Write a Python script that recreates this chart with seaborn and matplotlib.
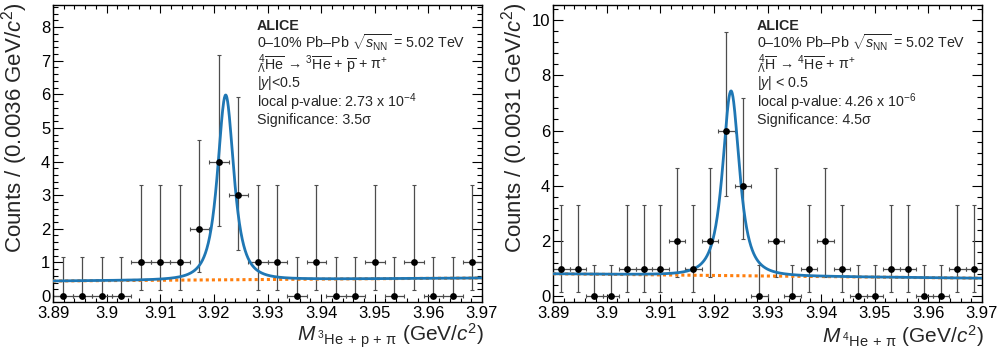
import numpy as np
import matplotlib
matplotlib.use("Agg")
import matplotlib.pyplot as plt
import matplotlib.ticker as mticker
import seaborn as sns

# ---- data ----
mass_lo, mass_hi = 3.89, 3.97

# left: anti-hyperhelium-4 -> 3He + p + pi  (22 bins, 0.0036 GeV/c2)
counts_he4l = [0, 0, 0, 0, 1, 1, 1, 2, 4, 3, 1, 1, 0, 1, 0, 0, 1, 0, 1, 0, 0, 1]
# right: anti-hypertriton-4 -> 4He + pi  (26 bins, 0.0031 GeV/c2)
counts_h4l = [1, 1, 0, 0, 1, 1, 1, 2, 1, 2, 6, 4, 0, 2, 0, 1, 2, 1, 0, 0,
              1, 1, 0, 0, 1, 1]

# Poisson error band ends per count
band_count = [0, 1, 2, 3, 4, 6]
band_low = [0.0, 0.17, 0.71, 1.37, 2.09, 3.62]
band_high = [1.15, 3.30, 4.64, 5.92, 7.16, 9.58]

# fit results (signal peak + linear background)
fit_he4l = dict(mu=3.9222, width=0.00165, amp=5.5, bg0=0.445, bg1=0.535)
fit_h4l = dict(mu=3.9232, width=0.0017, amp=6.68, bg0=0.82, bg1=0.66)

PI = r"\mathrm{\pi}"
panels = [
    dict(counts=counts_he4l, fit=fit_he4l, ymax=8.66, ymaj=1, ymin=-0.18,
         ylabel="Counts / (0.0036 GeV/$c^{2}$)",
         xlabel=r"$M_{\;^{3}\mathrm{He\,+\,p\,+\,}" + PI + r"}$ (GeV/$c^{2}$)",
         lines=["ALICE",
                r"0–10% Pb–Pb $\sqrt{s_{\mathrm{NN}}}$ = 5.02 TeV",
                r"${}^{\,4}_{\bar{\Lambda}}\overline{\mathrm{He}}\,\rightarrow\,{}^{3}\overline{\mathrm{He}}$ + $\overline{\mathrm{p}}$ + $" + PI + r"^{+}$",
                r"|$y$|<0.5",
                r"local p-value: 2.73 x 10$^{-4}$",
                "Significance: 3.5σ"]),
    dict(counts=counts_h4l, fit=fit_h4l, ymax=10.54, ymaj=2, ymin=-0.2,
         ylabel="Counts / (0.0031 GeV/$c^{2}$)",
         xlabel=r"$M_{\;^{4}\mathrm{He\,+\,}" + PI + r"}$ (GeV/$c^{2}$)",
         lines=["ALICE",
                r"0–10% Pb–Pb $\sqrt{s_{\mathrm{NN}}}$ = 5.02 TeV",
                r"${}^{\,4}_{\bar{\Lambda}}\overline{\mathrm{H}}\,\rightarrow\,{}^{4}\overline{\mathrm{He}}$ + $" + PI + r"^{+}$",
                r"|$y$| < 0.5",
                r"local p-value: 4.26 x 10$^{-6}$",
                "Significance: 4.5σ"]),
]

sns.set_theme(style="ticks")
plt.rcParams["font.family"] = ["Liberation Sans", "DejaVu Sans"]
plt.rcParams["mathtext.fontset"] = "custom"
plt.rcParams["mathtext.rm"] = "Liberation Sans"
plt.rcParams["mathtext.it"] = "Liberation Sans:italic"
plt.rcParams["mathtext.bf"] = "Liberation Sans:bold"
plt.rcParams["mathtext.sf"] = "Liberation Sans"

fig = plt.figure(figsize=(10, 3.53), dpi=100)
W, H = 1000, 353

for i, p in enumerate(panels):
    x0 = 53 + 500 * i
    ax = fig.add_axes([x0 / W, 1 - 302 / H, 429 / W, 297 / H])

    counts = np.array(p["counts"], dtype=float)
    nb = len(counts)
    edges = np.linspace(mass_lo, mass_hi, nb + 1)
    centers = 0.5 * (edges[:-1] + edges[1:])
    half = 0.5 * (edges[1] - edges[0])
    lo = np.array([band_low[band_count.index(int(c))] for c in counts])
    hi = np.array([band_high[band_count.index(int(c))] for c in counts])

    ax.errorbar(centers, counts, xerr=half, yerr=[counts - lo, hi - counts],
                fmt="none", ecolor="0.3", elinewidth=0.9, capsize=1.5,
                capthick=0.8, zorder=2)

    f = p["fit"]
    xs = np.linspace(mass_lo, mass_hi, 1200)
    bg = f["bg0"] + (f["bg1"] - f["bg0"]) * (xs - mass_lo) / (mass_hi - mass_lo)
    sig = f["amp"] * (1 + ((xs - f["mu"]) / f["width"]) ** 2 / 2) ** -1.5
    sns.lineplot(x=xs, y=bg, ax=ax, color="#ff7f0e", linewidth=2.2,
                 linestyle=(0, (1, 1)), zorder=3)
    sns.lineplot(x=xs, y=bg + sig, ax=ax, color="#1f77b4", linewidth=2.0,
                 zorder=4)
    sns.scatterplot(x=centers, y=counts, ax=ax, color="black", s=24,
                    linewidth=0, zorder=5)

    ax.set_xlim(mass_lo, mass_hi)
    ax.set_ylim(p["ymin"], p["ymax"])
    ax.xaxis.set_major_locator(mticker.MultipleLocator(0.01))
    ax.xaxis.set_minor_locator(mticker.AutoMinorLocator(5))
    ax.yaxis.set_major_locator(mticker.MultipleLocator(p["ymaj"]))
    ax.yaxis.set_minor_locator(mticker.AutoMinorLocator(5))
    ax.xaxis.set_major_formatter(
        mticker.FuncFormatter(lambda v, _: f"{round(v, 3):g}"))
    ax.yaxis.set_major_formatter(
        mticker.FuncFormatter(lambda v, _: f"{round(v, 3):g}"))
    ax.tick_params(which="both", direction="in", top=True, right=True,
                   colors="black", labelsize=12, width=0.8)
    ax.tick_params(axis="x", which="major", length=5.5, pad=3)
    ax.tick_params(axis="x", which="minor", length=2.8)
    ax.tick_params(axis="y", which="major", length=7.5, pad=2)
    ax.tick_params(axis="y", which="minor", length=3.8)
    for s in ax.spines.values():
        s.set_linewidth(1.0)
        s.set_color("black")
    ax.set_xlabel("")
    ax.set_ylabel("")

    fig.text((x0 - 38) / W, 1 - 2 / H, p["ylabel"], rotation=90,
             ha="center", va="top", fontsize=16)
    fig.text((x0 + 431) / W, 1 - 336 / H, p["xlabel"], ha="right",
             va="center", fontsize=15)

    ys = [26, 43, 64, 83, 102, 120]
    for j, (txt, yy) in enumerate(zip(p["lines"], ys)):
        ax.text(0.475, (302 - yy) / 297, txt, transform=ax.transAxes,
                ha="left", va="center", fontsize=10.3,
                fontweight="bold" if j == 0 else "normal", zorder=6)

fig.savefig("out.png", dpi=100)
